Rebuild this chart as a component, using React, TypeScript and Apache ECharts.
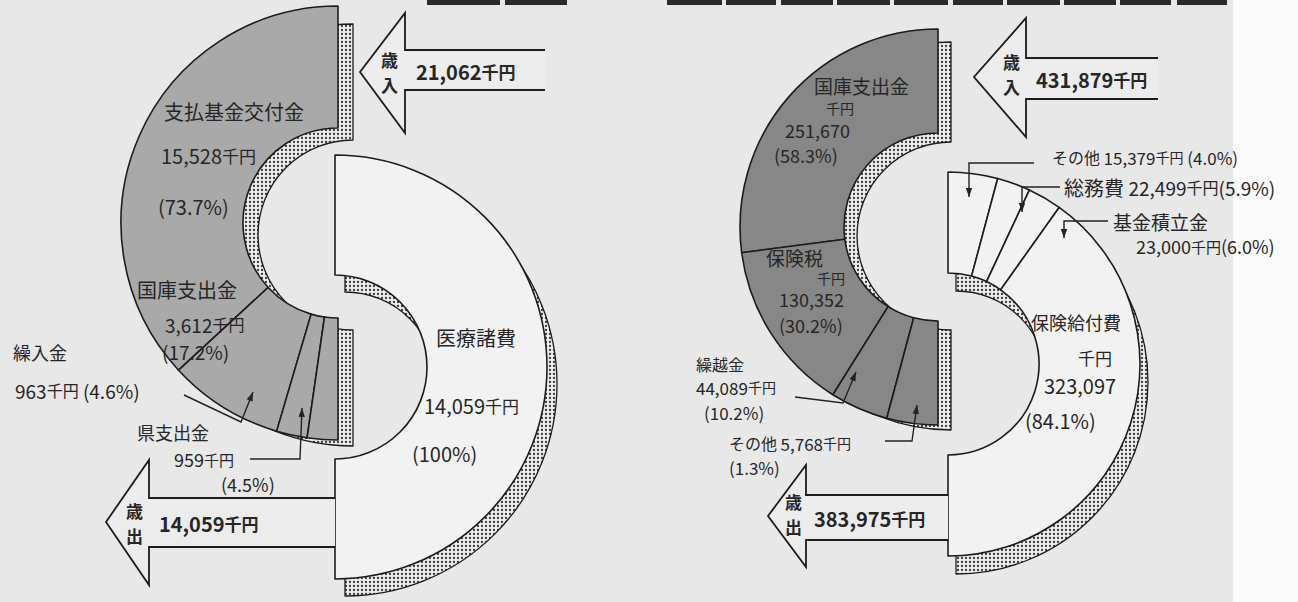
import React, { useEffect, useRef } from 'react';
import * as echarts from 'echarts';

// ---------- data ----------
const leftRevenueNames = ['支払基金交付金', '国庫支出金', '繰入金', '県支出金'];
const leftRevenueValues = [15528, 3612, 963, 959];
const leftRevenueShares = [73.7, 17.2, 4.6, 4.5];
const leftExpenditureNames = ['医療諸費'];
const leftExpenditureValues = [14059];
const leftExpenditureShares = [100];
const leftTotals = [21062, 14059];

const rightRevenueNames = ['国庫支出金', '保険税', '繰越金', 'その他'];
const rightRevenueValues = [251670, 130352, 44089, 5768];
const rightRevenueShares = [58.3, 30.2, 10.2, 1.3];
const rightExpenditureNames = ['その他', '総務費', '基金積立金', '保険給付費'];
const rightExpenditureValues = [15379, 22499, 23000, 323097];
const rightExpenditureShares = [4.0, 5.9, 6.0, 84.1];
const rightTotals = [431879, 383975];

const totalLabels = ['歳入', '歳出'];

// ---------- helpers ----------
const FONT = '"Noto Sans CJK JP", "Noto Sans", sans-serif';
const INK = '#262626';
const num = (v: number) => v.toLocaleString('en-US');
const pct = (p: number) => `(${p === 100 ? '100' : p.toFixed(1)}%)`;

function makeDots(): HTMLCanvasElement {
  const c = document.createElement('canvas');
  c.width = 4;
  c.height = 4;
  const g = c.getContext('2d')!;
  g.fillStyle = '#eeeeee';
  g.fillRect(0, 0, 4, 4);
  g.fillStyle = '#3a3a3a';
  g.beginPath();
  g.arc(2, 2, 1.15, 0, Math.PI * 2);
  g.fill();
  return c;
}

function ring(center: number[], radius: number[], start: number, end: number, clockwise: boolean,
  names: string[], values: number[], color: string) {
  return {
    type: 'pie', center, radius, startAngle: start, endAngle: end, clockwise, minAngle: 15, z: 2,
    silent: true, label: { show: false }, labelLine: { show: false }, emphasis: { disabled: true },
    itemStyle: { color, borderColor: '#1c1c1c', borderWidth: 1.6 },
    data: values.map((v, i) => ({ name: names[i], value: v })),
  };
}

function shadow(center: number[], radius: number[], start: number, end: number, clockwise: boolean,
  values: number[], dots: HTMLCanvasElement) {
  return {
    type: 'pie', center, radius, startAngle: start, endAngle: end, clockwise, z: 1,
    silent: true, label: { show: false }, labelLine: { show: false }, emphasis: { disabled: true },
    itemStyle: { color: { image: dots, repeat: 'repeat' }, borderColor: '#1c1c1c', borderWidth: 1.3 },
    data: [{ name: '', value: values.reduce((a, b) => a + b, 0) }],
  };
}

function txt(text: string, x: number, y: number, size = 19, weight = 'normal', fill = INK) {
  return {
    type: 'text', x, y, z: 100,
    style: { text, font: `${weight} ${size}px ${FONT}`, fill, textAlign: 'left', textVerticalAlign: 'middle' },
  };
}

function money(value: number, x: number, y: number, size = 20, weight = 'normal', suffix = '', prefix = '', prefixSize = 0) {
  const unit = Math.round(size * 0.85);
  const fill = INK;
  return {
    type: 'text', x, y, z: 100,
    style: {
      text: `${prefix ? `{p|${prefix}}` : ''}{n|${num(value)}}{u|千円}${suffix ? `{n|${suffix}}` : ''}`,
      textAlign: 'left', textVerticalAlign: 'middle', fill,
      rich: {
        p: { fontSize: prefixSize || size, fontFamily: FONT, fontWeight: weight, fill, color: fill },
        n: { fontSize: size, fontFamily: FONT, fontWeight: weight, fill, color: fill },
        u: { fontSize: unit, fontFamily: FONT, fontWeight: weight, fill, color: fill },
      },
    },
  };
}

function leader(points: number[][]) {
  const n = points.length;
  const [x1, y1] = points[n - 2];
  const [x2, y2] = points[n - 1];
  const a = Math.atan2(y2 - y1, x2 - x1);
  const L = 9, W = 3.2;
  const bx = x2 - L * Math.cos(a), by = y2 - L * Math.sin(a);
  const head = [
    [x2, y2],
    [bx + W * Math.sin(a), by - W * Math.cos(a)],
    [bx - W * Math.sin(a), by + W * Math.cos(a)],
  ];
  return [
    { type: 'polyline', z: 90, shape: { points }, style: { stroke: '#222', lineWidth: 1.4, fill: null } },
    { type: 'polygon', z: 90, shape: { points: head }, style: { fill: '#222' } },
  ];
}

function blockArrow(tipX: number, tipY: number, headX: number, headTop: number, headBottom: number,
  shaftTop: number, shaftBottom: number, endX: number) {
  const outline = [
    [endX, shaftTop], [headX, shaftTop], [headX, headTop], [tipX, tipY],
    [headX, headBottom], [headX, shaftBottom], [endX, shaftBottom],
  ];
  return [
    { type: 'polygon', z: 5, shape: { points: outline }, style: { fill: '#ececec' } },
    { type: 'polyline', z: 6, shape: { points: outline }, style: { stroke: '#1c1c1c', lineWidth: 1.8, fill: null } },
  ];
}

// two characters stacked vertically in one text element
function vertical(label: string, x: number, yMid: number) {
  return {
    type: 'text', x, y: yMid, z: 100,
    style: {
      text: `${label[0]}\n${label[1]}`, font: `bold 17px ${FONT}`, lineHeight: 25,
      fill: INK, textAlign: 'left', textVerticalAlign: 'middle',
    },
  };
}

const headerBoxes = [
  [427, 73], [505, 62], [667, 55], [726, 50], [781, 52], [837, 53], [894, 54],
  [953, 50], [1007, 53], [1064, 52], [1120, 51], [1177, 50],
];

export default function App() {
  const ref = useRef<HTMLDivElement>(null);

  useEffect(() => {
    if (!ref.current) return;
    const chart = echarts.init(ref.current, undefined, { renderer: 'svg' });
    const dots = makeDots();

    const graphics: any[] = [
      { type: 'rect', z: 0, shape: { x: 1233, y: 0, width: 65, height: 602 }, style: { fill: '#fafafa' } },
      ...headerBoxes.map(([x, w]) => ({ type: 'rect', z: 0, shape: { x, y: 0, width: w, height: 5 }, style: { fill: '#2b2b2b' } })),

      // ---- left chart ----
      ...blockArrow(360, 72, 405, 13, 133, 50, 90, 545),
      vertical(totalLabels[0], 381, 72),
      money(leftTotals[0], 416, 71, 20, 'bold'),
      ...blockArrow(106, 522, 149, 460, 585, 498, 547, 335),
      vertical(totalLabels[1], 126, 523),
      money(leftTotals[1], 159, 523, 20, 'bold'),

      txt(leftRevenueNames[0], 164, 111, 20),
      money(leftRevenueValues[0], 161, 155, 20),
      txt(pct(leftRevenueShares[0]), 158, 206, 20),
      txt(leftRevenueNames[1], 137, 289, 20),
      money(leftRevenueValues[1], 165, 324, 19),
      txt(pct(leftRevenueShares[1]), 162, 351, 19),
      txt(leftRevenueNames[2], 13, 352, 18),
      money(leftRevenueValues[2], 15, 390, 19, 'normal', ` ${pct(leftRevenueShares[2])}`),
      txt(leftRevenueNames[3], 137, 432, 18),
      money(leftRevenueValues[3], 174, 459, 18),
      txt(pct(leftRevenueShares[3]), 221, 484, 18),
      ...leader([[184, 395], [241, 422], [253, 392]]),
      ...leader([[250, 459], [300, 459], [302, 408]]),

      txt(leftExpenditureNames[0], 436, 337, 20),
      money(leftExpenditureValues[0], 424, 405, 20),
      txt(pct(leftExpenditureShares[0]), 412, 453, 20),

      // ---- right chart ----
      ...blockArrow(974, 77, 1026, 18, 137, 58, 99, 1158),
      vertical(totalLabels[0], 1003, 74),
      money(rightTotals[0], 1036, 79, 20, 'bold'),
      ...blockArrow(768, 516, 806, 465, 567, 495, 540, 948),
      vertical(totalLabels[1], 785, 514),
      money(rightTotals[1], 814, 518, 20, 'bold'),

      txt(rightRevenueNames[0], 814, 85, 19),
      txt('千円', 826, 108, 14),
      txt(num(rightRevenueValues[0]), 785, 130, 18),
      txt(pct(rightRevenueShares[0]), 774, 155, 18),
      txt(rightRevenueNames[1], 766, 257, 19),
      txt('千円', 817, 278, 14),
      txt(num(rightRevenueValues[1]), 779, 299, 18),
      txt(pct(rightRevenueShares[1]), 779, 325, 18),
      txt(rightRevenueNames[2], 696, 364, 16),
      money(rightRevenueValues[2], 696, 387, 17),
      txt(pct(rightRevenueShares[2]), 704, 412, 17),
      money(rightRevenueValues[3], 729, 443, 17, 'normal', '', `${rightRevenueNames[3]} `, 16),
      txt(pct(rightRevenueShares[3]), 729, 467, 17),
      ...leader([[795, 397], [843, 403], [856, 372]]),
      ...leader([[885, 441], [912, 441], [917, 405]]),

      txt(rightExpenditureNames[3], 1031, 322, 18),
      txt('千円', 1078, 357, 17),
      txt(num(rightExpenditureValues[3]), 1044, 385, 20),
      txt(pct(rightExpenditureShares[3]), 1025, 420, 20),

      money(rightExpenditureValues[0], 1052, 157, 17, 'normal', ` ${pct(rightExpenditureShares[0])}`, `${rightExpenditureNames[0]} `, 16),
      money(rightExpenditureValues[1], 1064, 187, 19, 'normal', pct(rightExpenditureShares[1]), `${rightExpenditureNames[1]} `, 20),
      txt(rightExpenditureNames[2], 1113, 221, 19),
      money(rightExpenditureValues[2], 1136, 246, 18, 'normal', pct(rightExpenditureShares[2])),
      ...leader([[1034, 163], [969, 163], [969, 197]]),
      ...leader([[1060, 187], [1022, 187], [1022, 212]]),
      ...leader([[1108, 221], [1064, 221], [1064, 238]]),
    ];

    chart.setOption({
      animation: false,
      backgroundColor: '#e8e8e8',
      series: [
        shadow([353, 235], [95, 211], 90, 270, false, leftRevenueValues, dots),
        shadow([345, 384], [92, 212], 90, -90, true, leftExpenditureValues, dots),
        shadow([951, 236], [94, 194], 90, 270, false, rightRevenueValues, dots),
        shadow([956, 382], [91, 192], 90, -90, true, rightExpenditureValues, dots),
        ring([338, 223], [95, 217], 90, 270, false, leftRevenueNames, leftRevenueValues, '#a9a9a9'),
        ring([335, 367], [92, 212], 90, -90, true, leftExpenditureNames, leftExpenditureValues, '#f2f2f2'),
        ring([938, 227], [94, 198], 90, 270, false, rightRevenueNames, rightRevenueValues, '#878787'),
        ring([948, 364], [91, 192], 90, -90, true, rightExpenditureNames, rightExpenditureValues, '#f2f2f2'),
      ],
      graphic: { elements: graphics },
    });

    return () => chart.dispose();
  }, []);

  return <div ref={ref} style={{ position: 'fixed', left: 0, top: 0, width: 1298, height: 602 }} />;
}
